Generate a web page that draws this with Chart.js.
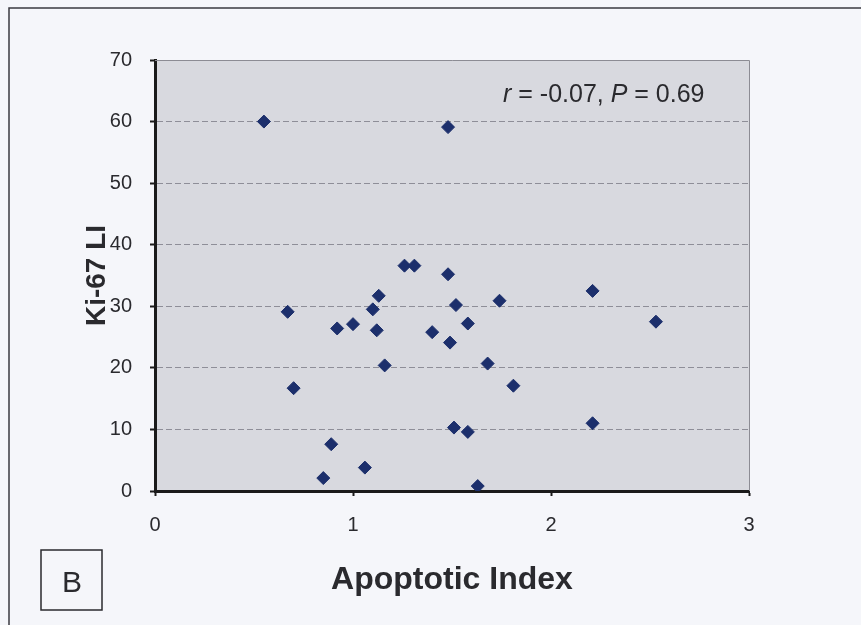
<!DOCTYPE html>
<html>
<head>
<meta charset="utf-8">
<script src="https://cdn.jsdelivr.net/npm/chart.js@4/dist/chart.umd.min.js"></script>
<style>
  html, body { margin: 0; padding: 0; background: #f5f6fa; }
  #wrap { width: 861px; height: 625px; position: relative; }
</style>
</head>
<body>
<div id="wrap"><canvas id="c" width="861" height="625"></canvas></div>
<script>
// Data
const apoptoticIndex = [0.55, 1.48, 1.26, 1.31, 1.48, 1.13, 0.67, 1.10, 1.52, 0.92,
                        1.00, 1.12, 1.40, 1.49, 1.16, 0.70, 1.51, 0.89, 1.06, 0.85,
                        2.21, 1.74, 1.58, 2.53, 1.68, 1.81, 1.58, 2.21, 1.63];
const ki67LI = [60.0, 59.1, 36.6, 36.6, 35.2, 31.7, 29.1, 29.5, 30.2, 26.4,
                27.1, 26.1, 25.8, 24.1, 20.4, 16.7, 10.3, 7.6, 3.8, 2.1,
                32.5, 30.9, 27.2, 27.5, 20.7, 17.1, 9.6, 11.0, 0.8];
const xTicks = [0, 1, 2, 3];
const yTicks = [0, 10, 20, 30, 40, 50, 60, 70];
const xTitle = 'Apoptotic Index';
const yTitle = 'Ki-67 LI';
const panelLabel = 'B';
const statsParts = [
  { t: 'r', italic: true }, { t: ' = -0.07, ', italic: false },
  { t: 'P', italic: true }, { t: ' = 0.69', italic: false }
];

const points = apoptoticIndex.map((x, i) => ({ x: x, y: ki67LI[i] }));
const FONT = '"Liberation Sans", Arial, sans-serif';

const decor = {
  id: 'decor',
  beforeDraw(chart) {
    const { ctx, chartArea: a } = chart;
    ctx.save();
    ctx.fillStyle = '#f5f6fa';
    ctx.fillRect(0, 0, chart.width, chart.height);
    // outer frame
    ctx.strokeStyle = '#3a3a40';
    ctx.lineWidth = 1.5;
    ctx.strokeRect(9, 8, 870, 640);
    // plot background
    ctx.fillStyle = '#d8d9df';
    ctx.fillRect(a.left, a.top, a.right - a.left, a.bottom - a.top);
    ctx.restore();
  },
  afterDraw(chart) {
    const { ctx, chartArea: a } = chart;
    ctx.save();
    // top & right plot border
    ctx.strokeStyle = '#8c8c94';
    ctx.lineWidth = 1;
    ctx.beginPath();
    ctx.moveTo(a.left, a.top + 0.5);
    ctx.lineTo(a.right + 0.5, a.top + 0.5);
    ctx.lineTo(a.right + 0.5, a.bottom);
    ctx.stroke();
    // panel label box
    ctx.strokeStyle = '#2a2a2e';
    ctx.lineWidth = 1.5;
    ctx.strokeRect(41, 550, 61, 60);
    ctx.fillStyle = '#2a2a2e';
    ctx.font = '30px ' + FONT;
    ctx.textAlign = 'center';
    ctx.textBaseline = 'alphabetic';
    ctx.fillText(panelLabel, 72, 592);
    // stats annotation
    ctx.textAlign = 'left';
    let x = 503;
    statsParts.forEach(p => {
      ctx.font = (p.italic ? 'italic ' : '') + '25px ' + FONT;
      ctx.fillText(p.t, x, 102);
      x += ctx.measureText(p.t).width;
    });
    ctx.restore();
  }
};

new Chart(document.getElementById('c'), {
  type: 'scatter',
  data: {
    datasets: [{
      data: points,
      pointStyle: 'rectRot',
      pointRadius: 6.5,
      pointHoverRadius: 6.5,
      backgroundColor: '#1c2f6c',
      borderColor: '#1c2f6c',
      borderWidth: 1
    }]
  },
  options: {
    responsive: false,
    animation: false,
    events: [],
    layout: { padding: { left: 0, top: 60, right: 112, bottom: 0 } },
    plugins: { legend: { display: false }, tooltip: { enabled: false } },
    scales: {
      x: {
        type: 'linear',
        min: 0, max: 3,
        afterBuildTicks: s => { s.ticks = xTicks.map(v => ({ value: v })); },
        afterFit: s => { s.height = 134; },
        grid: { drawOnChartArea: false, drawTicks: true, tickLength: 5, tickColor: '#1a1a1a', tickWidth: 2 },
        border: { display: true, color: '#1a1a1a', width: 3 },
        ticks: { color: '#2a2a2e', font: { family: FONT, size: 20 }, padding: 17 },
        title: { display: true, text: xTitle, color: '#2a2a2e', font: { family: FONT, size: 32, weight: 'bold' }, padding: { top: 0, bottom: 26 } }
      },
      y: {
        type: 'linear',
        min: 0, max: 70,
        afterBuildTicks: s => { s.ticks = yTicks.map(v => ({ value: v })); },
        afterFit: s => { s.width = 155; },
        grid: {
          color: ctx => (ctx.tick && (ctx.tick.value === 0 || ctx.tick.value === 70)) ? 'rgba(0,0,0,0)' : '#8e8e98',
          lineWidth: 1,
          drawTicks: true, tickLength: 5, tickColor: '#1a1a1a', tickWidth: 2, tickBorderDash: []
        },
        border: { display: true, color: '#1a1a1a', width: 3, dash: [6, 3] },
        ticks: { color: '#2a2a2e', font: { family: FONT, size: 20 }, padding: 18 },
        title: { display: true, text: yTitle, color: '#2a2a2e', font: { family: FONT, size: 28, weight: 'bold' }, padding: { top: 80, bottom: 0 } }
      }
    }
  },
  plugins: [decor]
});
</script>
</body>
</html>
